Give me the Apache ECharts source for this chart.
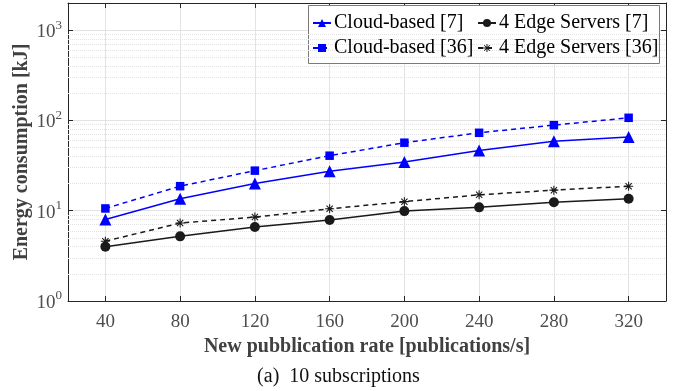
<!DOCTYPE html>
<html><head><meta charset="utf-8">
<script src="https://cdn.jsdelivr.net/npm/echarts@6/dist/echarts.min.js"></script>
<style>html,body{margin:0;padding:0;background:#fff}#c{width:677px;height:391px}</style>
</head><body><div id="c"></div>
<script>
const categories = ['40','80','120','160','200','240','280','320'];
const cloud7  = [8.0, 13.6, 20.0, 27.3, 34.6, 46.6, 59.0, 65.4];
const cloud36 = [10.6, 18.7, 27.8, 40.7, 56.7, 73.0, 88.7, 107];
const edge7   = [4.0, 5.2, 6.6, 7.9, 9.9, 10.9, 12.4, 13.6];
const edge36  = [4.6, 7.3, 8.5, 10.5, 12.6, 15.0, 16.9, 18.7];
const minorTicks = [2,3,4,5,6,7,8,9,20,30,40,50,60,70,80,90,200,300,400,500,600,700,800,900];
const names = ['Cloud-based [7]','Cloud-based [36]','4 Edge Servers [7]','4 Edge Servers [36]'];

const asterisk = 'path://M-5,-0.6L5,-0.6L5,0.6L-5,0.6Z M-0.6,-5L0.6,-5L0.6,5L-0.6,5Z M-3.9,-3.05L-3.05,-3.9L3.9,3.05L3.05,3.9Z M3.05,-3.9L3.9,-3.05L-3.05,3.9L-3.9,3.05Z';
const serif = 'Liberation Serif';
const axisGrey = '#262626';
const labelGrey = '#4d4d4d';

function isPow10(v){const l=Math.log10(v);return Math.abs(l-Math.round(l))<1e-6;}

const chart = echarts.init(document.getElementById('c'));
chart.setOption({
  animation:false,
  backgroundColor:'#fff',
  textStyle:{fontFamily:serif},
  title:{text:'(a)  10 subscriptions',left:'center',top:362,
    textStyle:{fontFamily:serif,fontSize:20,fontWeight:'normal',color:'#111'}},
  grid:{left:68,right:11,top:3,bottom:90,containLabel:false},
  xAxis:[{
    type:'category',data:categories,boundaryGap:true,
    axisLine:{lineStyle:{color:axisGrey,width:1}},
    axisTick:{show:true,inside:true,alignWithLabel:true,length:5,lineStyle:{color:axisGrey}},
    axisLabel:{color:labelGrey,fontSize:19,fontFamily:serif,margin:12},
    splitLine:{show:true,alignWithLabel:true,lineStyle:{color:'#e3e3e3',width:1}},
    name:'New pubblication rate [publications/s]',nameLocation:'middle',nameGap:31,
    nameTextStyle:{fontFamily:serif,fontSize:20,fontWeight:'bold',color:'#404040'}
  },{
    type:'category',data:categories,boundaryGap:true,position:'top',
    axisLine:{show:true,lineStyle:{color:axisGrey,width:1}},
    axisTick:{show:true,inside:true,alignWithLabel:true,length:5,lineStyle:{color:axisGrey}},
    axisLabel:{show:false},splitLine:{show:false}
  }],
  yAxis:[{
    type:'log',logBase:10,min:1,max:2000,
    axisLine:{show:true,lineStyle:{color:axisGrey,width:1}},
    axisTick:{show:true,inside:true,length:5,lineStyle:{color:axisGrey}},
    axisLabel:{margin:6,showMaxLabel:false,
      formatter:function(v){ if(!isPow10(v)) return ''; return '{b|10}{s|'+Math.round(Math.log10(v))+'}'; },
      rich:{b:{fontFamily:serif,fontSize:19,color:labelGrey,verticalAlign:'bottom'},
            s:{fontFamily:serif,fontSize:13,color:labelGrey,verticalAlign:'top',padding:[0,0,10,0]}}},
    splitLine:{show:true,lineStyle:{color:'#e3e3e3',width:1}},
    name:'Energy consumption [kJ]',nameLocation:'middle',nameGap:36,nameMoveOverlap:false,
    nameTextStyle:{fontFamily:serif,fontSize:20,fontWeight:'bold',color:'#404040'}
  },{
    type:'log',logBase:10,min:1,max:2000,position:'right',
    axisLine:{show:true,lineStyle:{color:axisGrey,width:1}},
    axisTick:{show:true,inside:true,length:5,lineStyle:{color:axisGrey}},
    axisLabel:{show:false},splitLine:{show:false}
  }],
  legend:[{
    orient:'vertical',left:307,top:8,itemGap:5,itemWidth:18,itemHeight:10,z:8,
    data:[names[0],names[1]],
    textStyle:{fontFamily:serif,fontSize:20,color:'#000',padding:[0,0,0,-2]}
  },{
    orient:'vertical',left:472,top:8,itemGap:5,itemWidth:18,itemHeight:10,z:8,
    data:[names[2],names[3]],
    textStyle:{fontFamily:serif,fontSize:20,color:'#000',padding:[0,0,0,-2]}
  }],
  graphic:[{type:'rect',shape:{x:308.5,y:5.5,width:351,height:58},
    style:{fill:'#fff',stroke:'#7a7a7a',lineWidth:1},z:3}],
  series:[
    {name:'grid',type:'line',data:[],silent:true,z:1,
     markLine:{silent:true,symbol:'none',label:{show:false},animation:false,
       lineStyle:{type:'dotted',color:'#e2e2e2',width:1},
       data:minorTicks.map(v=>({yAxis:v}))}},
    {name:names[0],type:'line',data:cloud7,color:'#0000ff',symbol:'triangle',symbolSize:12,
     lineStyle:{width:1.5,color:'#0000ff'},itemStyle:{color:'#0000ff'},z:10},
    {name:names[1],type:'line',data:cloud36,color:'#0000ff',symbol:'rect',symbolSize:8.5,
     lineStyle:{width:1.5,type:[5,4],color:'#0000ff'},itemStyle:{color:'#0000ff'},z:10},
    {name:names[2],type:'line',data:edge7,color:'#1a1a1a',symbol:'circle',symbolSize:10,
     lineStyle:{width:1.5,color:'#1a1a1a'},itemStyle:{color:'#1a1a1a'},z:10},
    {name:names[3],type:'line',data:edge36,color:'#1a1a1a',symbol:asterisk,symbolSize:9,
     lineStyle:{width:1.5,type:[5,4],color:'#1a1a1a'},itemStyle:{color:'#1a1a1a'},z:10}
  ]
});
</script></body></html>
